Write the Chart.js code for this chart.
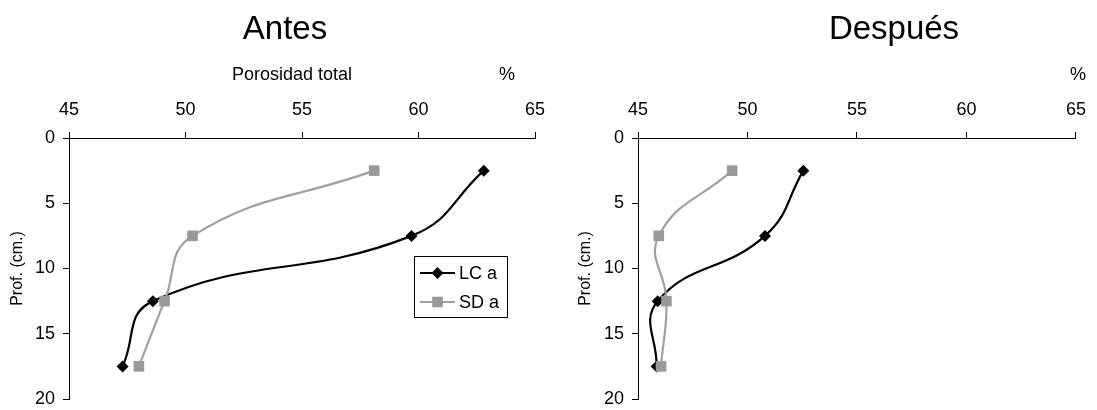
<!DOCTYPE html>
<html>
<head>
<meta charset="utf-8">
<script src="https://cdn.jsdelivr.net/npm/chart.js@4/dist/chart.umd.min.js"></script>
<style>
  html, body { margin: 0; padding: 0; background: #fff; overflow: hidden; }
  #wrap { position: relative; width: 1097px; height: 410px; overflow: hidden; }
  canvas { position: absolute; top: 0; }
</style>
</head>
<body>
<div id="wrap">
  <canvas id="antes" width="560" height="416" style="left:0"></canvas>
  <canvas id="despues" width="528" height="416" style="left:569px"></canvas>
</div>
<script>
// ---------- Data ----------
const depths = [2.5, 7.5, 12.5, 17.5];          // Prof. (cm.)
const antesLC = [62.8, 59.7, 48.6, 47.3];
const antesSD = [58.1, 50.3, 49.1, 48.0];
const despuesLC = [52.55, 50.8, 45.9, 45.85];
const despuesSD = [49.3, 45.95, 46.3, 46.05];
const seriesNames = ["LC a", "SD a"];
const xMin = 45, xMax = 65, xStep = 5;
const yMin = 0, yMax = 20, yStep = 5;

const FONT = '"Liberation Sans", Arial, Helvetica, sans-serif';
const LC_COLOR = "#000000";
const SD_COLOR = "#999999";

function toPoints(xs) {
  return xs.map((x, i) => ({ x: x, y: depths[i] }));
}

// ---------- Helpers ----------
function drawMarker(ctx, style, cx, cy, r, color) {
  ctx.fillStyle = color;
  ctx.beginPath();
  if (style === "rectRot") {
    ctx.moveTo(cx, cy - r);
    ctx.lineTo(cx + r, cy);
    ctx.lineTo(cx, cy + r);
    ctx.lineTo(cx - r, cy);
  } else {
    const h = r * Math.SQRT1_2;
    ctx.rect(cx - h, cy - h, 2 * h, 2 * h);
  }
  ctx.closePath();
  ctx.fill();
}

// texts (titles, axis caption) + legend box inside plot area
const extrasPlugin = {
  id: "extras",
  afterDraw(chart, args, opts) {
    const ctx = chart.ctx;
    const area = chart.chartArea;
    ctx.save();
    ctx.fillStyle = "#000";
    ctx.textAlign = "center";
    ctx.textBaseline = "alphabetic";
    (opts.texts || []).forEach(t => {
      ctx.font = t.size + "px " + FONT;
      ctx.fillText(t.text, area.left + t.dx, t.y);
    });

    const lg = opts.legend;
    if (lg) {
      const bx = area.left + lg.dx;
      ctx.strokeStyle = "#000";
      ctx.lineWidth = 1;
      ctx.strokeRect(Math.round(bx) + 0.5, lg.y + 0.5, lg.w, lg.h);
      chart.data.datasets.forEach((ds, i) => {
        const cy = lg.y + lg.rows[i];
        ctx.strokeStyle = ds.borderColor;
        ctx.lineWidth = ds.borderWidth;
        ctx.beginPath();
        ctx.moveTo(bx + 6, cy);
        ctx.lineTo(bx + 41, cy);
        ctx.stroke();
        drawMarker(ctx, ds.pointStyle, bx + 23.5, cy, ds.pointRadius, ds.pointBackgroundColor);
        ctx.fillStyle = "#000";
        ctx.textAlign = "left";
        ctx.textBaseline = "middle";
        ctx.font = "18px " + FONT;
        ctx.fillText(ds.label, bx + 45, cy + 1);
      });
    }
    ctx.restore();
  }
};

function makeChart(id, lc, sd, extras) {
  const ctx = document.getElementById(id).getContext("2d");
  return new Chart(ctx, {
    type: "scatter",
    data: {
      datasets: [
        {
          label: seriesNames[0],
          data: toPoints(lc),
          showLine: true,
          tension: 0.45,
          borderColor: LC_COLOR,
          borderWidth: 2.2,
          pointStyle: "rectRot",
          pointRadius: 6,
          pointHoverRadius: 6,
          pointBackgroundColor: LC_COLOR,
          pointBorderColor: LC_COLOR,
          pointBorderWidth: 0,
          order: 1
        },
        {
          label: seriesNames[1],
          data: toPoints(sd),
          showLine: true,
          tension: 0.45,
          borderColor: "#a0a0a0",
          borderWidth: 2.2,
          pointStyle: "rect",
          pointRadius: 7.5,
          pointHoverRadius: 7.5,
          pointBackgroundColor: SD_COLOR,
          pointBorderColor: SD_COLOR,
          pointBorderWidth: 0,
          order: 0
        }
      ]
    },
    options: {
      responsive: false,
      animation: false,
      layout: { padding: { left: 0, right: extras.padRight, top: 0, bottom: 13 } },
      scales: {
        x: {
          type: "linear",
          position: "top",
          min: xMin,
          max: xMax,
          ticks: { stepSize: xStep, color: "#000", padding: 11, font: { family: FONT, size: 18 } },
          grid: { drawOnChartArea: false, tickLength: 6, color: "#000", tickWidth: 1 },
          border: { display: true, color: "#000", width: 1 },
          afterFit: s => { s.height = 138; }
        },
        y: {
          type: "linear",
          reverse: true,
          min: yMin,
          max: yMax,
          ticks: { stepSize: yStep, color: "#000", padding: 8, font: { family: FONT, size: 18, lineHeight: 1 } },
          grid: { drawOnChartArea: false, tickLength: 6, color: "#000", tickWidth: 1 },
          border: { display: true, color: "#000", width: 1 },
          title: {
            display: true,
            text: "Prof. (cm.)",
            color: "#000",
            font: { family: FONT, size: 16 },
            padding: { top: extras.titlePad, bottom: 0 }
          },
          afterFit: s => { s.width = 69; }
        }
      },
      plugins: {
        legend: { display: false },
        tooltip: { enabled: false },
        extras: extras
      }
    },
    plugins: [extrasPlugin]
  });
}

// ---------- Charts ----------
makeChart("antes", antesLC, antesSD, {
  padRight: 25,
  titlePad: 8,
  texts: [
    { text: "Antes", dx: 216, y: 39, size: 33 },
    { text: "Porosidad total", dx: 223, y: 80, size: 18 },
    { text: "%", dx: 438, y: 80, size: 18 }
  ],
  legend: { dx: 345, y: 256, w: 93, h: 61, rows: [17, 46] }
});

makeChart("despues", despuesLC, despuesSD, {
  padRight: 14,
  titlePad: 7,
  texts: [
    { text: "Después", dx: 256, y: 39, size: 33 },
    { text: "%", dx: 440, y: 80, size: 18 }
  ]
});
</script>
</body>
</html>
